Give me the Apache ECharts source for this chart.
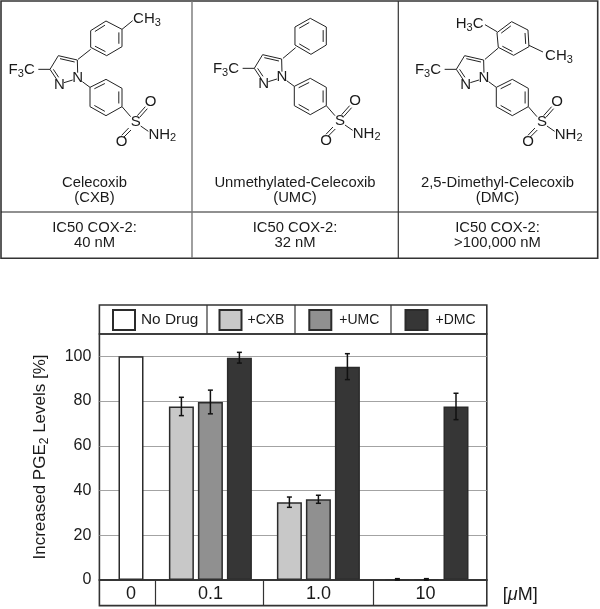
<!DOCTYPE html>
<html><head><meta charset="utf-8">
<style>html,body{margin:0;padding:0;background:#fff}#c{width:600px;height:609px}</style>
<script src="https://cdn.jsdelivr.net/npm/echarts@6/dist/echarts.min.js"></script>
</head><body><div id="c"></div>
<script>
const doses = ['0', '0.1', '1.0', '10'];
const seriesNames = ['No Drug', '+CXB', '+UMC', '+DMC'];
const noDrug = [100];
const cxb = [77.6, 34.8, 0.3];
const umc = [79.6, 36.1, 0.3];
const dmc = [99.4, 95.4, 77.6];
const cxbErr = [4.1, 2.3, 0.3];
const umcErr = [5.3, 1.8, 0.3];
const dmcErr = [2.4, 5.8, 5.9];
const yTicks = [0, 20, 40, 60, 80, 100];
const compounds = ['Celecoxib\n(CXB)', 'Unmethylated-Celecoxib\n(UMC)', '2,5-Dimethyl-Celecoxib\n(DMC)'];
const ic50 = ['IC50 COX-2:\n40 nM', 'IC50 COX-2:\n32 nM', 'IC50 COX-2:\n>100,000 nM'];

// layout (axis units are pixels from the plot's left edge)
const L = 99.4, R = 486.8, T = 334, B = 580;
const xNoDrug = [31.6];
const xCxb = [82, 190, 298];
const xUmc = [111, 219, 327];
const xDmc = [140, 248, 356.6];
const labelAt = [31.6, 111, 219, 326];
const dividers = [55.6, 163.6, 273.9];
const dark = '#2b2b2b';

const pair = (xs, ys) => ys.map((y, i) => [xs[i], y]);
const barStyle = c => ({ color: c, borderColor: dark, borderWidth: 1.5 });
const bar = (name, xs, ys, c) => ({
  type: 'bar', name, data: pair(xs, ys), barWidth: 25, barGap: '-100%', itemStyle: barStyle(c), silent: true, animation: false
});
const errData = [];
[[xCxb, cxb, cxbErr], [xUmc, umc, umcErr], [xDmc, dmc, dmcErr]].forEach(([xs, ys, es]) =>
  ys.forEach((y, i) => errData.push([xs[i], y - es[i], y + es[i]])));

// ---- drawn decorations -------------------------------------------------
const g = [];
const line = (a, b, w, c) => g.push({ type: 'line', silent: true, z: 5,
  shape: { x1: a[0], y1: a[1], x2: b[0], y2: b[1] }, style: { stroke: c || '#222', lineWidth: w || 1 } });
const text = (x, y, t, size, extra) => g.push({ type: 'text', silent: true, z: 6, x, y,
  style: Object.assign({ text: t, fontFamily: 'Liberation Sans', fontSize: size, fill: '#1a1a1a', align: 'center', verticalAlign: 'middle', lineHeight: 15 }, extra || {}) });
const rect = (x, y, w, h, lw) => g.push({ type: 'rect', silent: true, z: 4,
  shape: { x, y, width: w, height: h }, style: { fill: 'none', stroke: '#333', lineWidth: lw } });

// upper table
rect(1, 1, 596.7, 257.3, 1.6);
line([1, 212], [597.7, 212], 1.2, '#222');
line([192, 1], [192, 258], 1.4, '#777');
line([398.3, 1], [398.3, 258], 1.2, '#333');
[94.5, 295, 497.5].forEach((x, i) => {
  text(x, 190.5, compounds[i], 14.8);
  text(x, 235.5, ic50[i], 14.8);
});

// chemical structures, coordinates in 3x crop pixels
const rich = { s: { fontSize: 11, fontFamily: 'Liberation Sans', fill: '#1a1a1a', padding: [7, 0, 0, 0] }, n: { fontSize: 15, fontFamily: 'Liberation Sans', fill: '#1a1a1a' } };
function ring(P, v, dbl) {
  const cx = v.reduce((a, q) => a + q[0], 0) / v.length, cy = v.reduce((a, q) => a + q[1], 0) / v.length;
  v.forEach((q, i) => {
    const r = v[(i + 1) % v.length];
    line(P(q), P(r), 1);
    if (dbl.includes(i)) {
      const f = 0.8, sh = 0.09;
      const a = [q[0] + (r[0] - q[0]) * sh, q[1] + (r[1] - q[1]) * sh], b = [r[0] - (r[0] - q[0]) * sh, r[1] - (r[1] - q[1]) * sh];
      line(P([cx + (a[0] - cx) * f, cy + (a[1] - cy) * f]), P([cx + (b[0] - cx) * f, cy + (b[1] - cy) * f]), 1);
    }
  });
}
function core(dx, dy) {
  const P = q => [q[0] / 3 + dx, q[1] / 3 + dy];
  const seg = (a, b) => line(P(a), P(b), 1);
  // pyrazole
  seg([232, 180], [175, 167]); seg([224, 186], [180, 176]);
  seg([175, 167], [150, 208]);
  seg([150, 208], [170, 238]); seg([160, 208], [176, 232]);
  seg([192, 248], [218, 240]);
  seg([232, 180], [233, 218]);
  seg([115, 208], [150, 208]);
  // benzene + sulfonamide
  seg([247, 245], [270, 262]);
  ring(P, [[270, 262], [318, 238], [366, 265], [366, 320], [318, 347], [270, 320]], [0, 2, 4]);
  seg([366, 320], [392, 350]);
  seg([412, 347], [436, 320]); seg([419, 352], [442, 326]);
  seg([386, 384], [365, 406]); seg([393, 390], [372, 411]);
  seg([422, 378], [445, 394]);
  text(P([178, 256])[0], P([178, 256])[1], 'N', 15);
  text(P([233, 235])[0], P([233, 235])[1], 'N', 15);
  text(P([407, 366])[0], P([407, 366])[1], 'S', 15);
  text(P([452, 305])[0], P([452, 305])[1], 'O', 15);
  text(P([365, 425])[0], P([365, 425])[1], 'O', 15);
  text(P([65, 211])[0], P([65, 211])[1], '{n|F}{s|3}{n|C}', 15, { rich });
  text(P([487, 404])[0], P([487, 404])[1], '{n|NH}{s|2}', 15, { rich });
  return P;
}
// CXB
let P = core(0, 0);
ring(P, [[272, 92], [318, 63], [366, 88], [366, 140], [320, 167], [272, 142]], [0, 2, 4]);
line(P([272, 148]), P([234, 178]), 1);
line(P([366, 88]), P([398, 62]), 1);
text(P([441, 58])[0], P([441, 58])[1], '{n|CH}{s|3}', 15, { rich });
// UMC
P = core(204.3, -1);
ring(P, [[272, 84], [318, 58], [366, 84], [366, 138], [320, 166], [272, 138]], [0, 2, 4]);
line(P([274, 146]), P([236, 178]), 1);
// DMC
P = core(406.3, 0);
ring(P, [[272, 98], [316, 65], [365, 90], [368, 140], [322, 166], [276, 142]], [0, 2, 4]);
line(P([276, 144]), P([236, 178]), 1);
line(P([272, 95]), P([236, 74]), 1);
line(P([368, 136]), P([410, 156]), 1);
text(P([190, 72])[0], P([190, 72])[1], '{n|H}{s|3}{n|C}', 15, { rich });
text(P([458, 168])[0], P([458, 168])[1], '{n|CH}{s|3}', 15, { rich });

// legend row and dose row frames
rect(L, 305, R - L, T - 305, 1.6);
[207, 295, 391].forEach(x => line([x, 305], [x, T], 1.2, '#333'));
rect(L, B, R - L, 605.6 - B, 1.6);

const legendAt = [112, 218.5, 308.3, 404.5];
const legendGapText = [6, 6, 8, 8];
const legendFont = [15.4, 14, 14, 14];

const chart = echarts.init(document.getElementById('c'), null, { renderer: 'canvas' });
chart.setOption({
  animation: false,
  backgroundColor: '#fff',
  graphic: g,
  grid: { left: L, right: 600 - R, top: T, bottom: 609 - B, outerBoundsMode: 'none', show: true, borderColor: '#333', borderWidth: 1.6, backgroundColor: 'transparent' },
  legend: seriesNames.map((n, i) => ({
    data: [n], left: legendAt[i], top: 309, itemWidth: 22, itemHeight: 20,
    itemGap: 0, padding: 0, selectedMode: false, icon: 'rect',
    formatter: '{a|' + n + '}',
    textStyle: { rich: { a: { fontFamily: 'Liberation Sans', fontSize: legendFont[i], color: '#1a1a1a', padding: [0, 0, 0, legendGapText[i] - 5] } } }
  })),
  xAxis: {
    type: 'value', min: 0, max: R - L, splitLine: { show: false },
    axisLine: { show: true, lineStyle: { color: '#333', width: 1.6 } },
    axisTick: { show: true, customValues: dividers, length: 25.6, lineStyle: { color: '#333', width: 1.2 } },
    axisLabel: {
      customValues: labelAt, margin: 5, fontFamily: 'Liberation Sans', fontSize: 18, color: '#1a1a1a',
      formatter: v => doses[labelAt.indexOf(v)]
    },
    name: '{m|[}{i|\u03bc}{m|M]}', nameLocation: 'end', nameGap: 16,
    nameTextStyle: {
      verticalAlign: 'top', padding: [6, 0, 0, 0],
      rich: {
        m: { fontFamily: 'Liberation Sans', fontSize: 18, color: '#1a1a1a' },
        i: { fontFamily: 'Liberation Sans', fontStyle: 'italic', fontSize: 18, color: '#1a1a1a' }
      }
    }
  },
  yAxis: {
    type: 'value', min: 0, max: 110, interval: 20,
    axisLine: { show: false }, axisTick: { show: false },
    splitLine: { show: true, showMinLine: false, showMaxLine: false, lineStyle: { color: '#a3a3a3', width: 1 } },
    axisLabel: { showMaxLabel: false, margin: 8, fontFamily: 'Liberation Sans', fontSize: 16, color: '#1a1a1a',
      formatter: v => yTicks.includes(v) ? String(v) : '' },
    name: '{n|Increased PGE}{s|2}{n| Levels [%]}', nameLocation: 'middle', nameGap: 49,
    nameTextStyle: { rich: {
      n: { fontFamily: 'Liberation Sans', fontSize: 17, color: '#1a1a1a' },
      s: { fontFamily: 'Liberation Sans', fontSize: 12, color: '#1a1a1a', padding: [9, 0, 0, 0] }
    } }
  },
  series: [
    bar(seriesNames[0], xNoDrug, noDrug, '#ffffff'),
    bar(seriesNames[1], xCxb, cxb, '#c8c8c8'),
    bar(seriesNames[2], xUmc, umc, '#909090'),
    bar(seriesNames[3], xDmc, dmc, '#363636'),
    {
      type: 'custom', data: errData, silent: true, z: 10, animation: false, clip: false,
      encode: { x: 0, y: [1, 2] },
      renderItem(params, api) {
        const lo = api.coord([api.value(0), api.value(1)]);
        const hi = api.coord([api.value(0), api.value(2)]);
        const st = { stroke: '#111', lineWidth: 1.5 };
        const mk = (x1, y1, x2, y2) => ({ type: 'line', shape: { x1, y1, x2, y2 }, style: st });
        return { type: 'group', children: [
          mk(lo[0], lo[1], hi[0], hi[1]),
          mk(lo[0] - 2.5, lo[1], lo[0] + 2.5, lo[1]),
          mk(hi[0] - 2.5, hi[1], hi[0] + 2.5, hi[1])
        ] };
      }
    }
  ]
});
</script></body></html>
